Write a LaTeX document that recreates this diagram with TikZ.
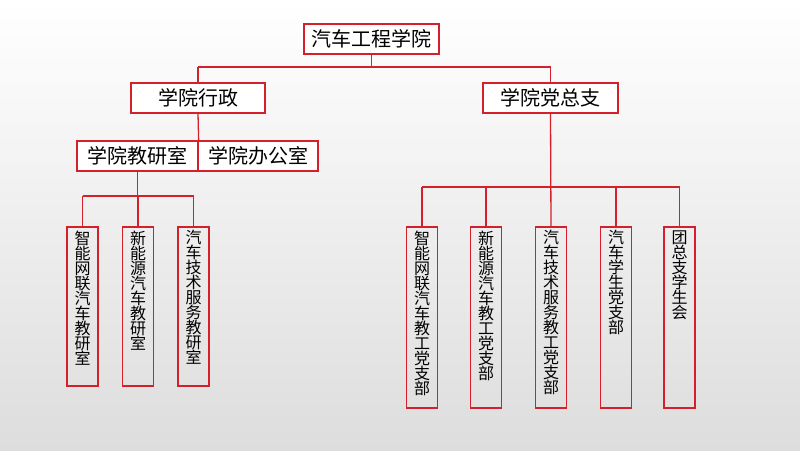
\documentclass[tikz,border=0pt]{standalone}
\usepackage{fontspec}
\setmainfont{Noto Sans CJK SC}
\definecolor{boxred}{RGB}{212,32,42}
\definecolor{bgbot}{RGB}{221,221,221}
\definecolor{bgmid}{RGB}{246,246,246}
\tikzset{
  x=1pt, y=-1pt,
  orgbox/.style={draw=boxred, line width=1.3pt, fill=white, minimum height=30pt, inner sep=0pt, font=\fontsize{20}{20}\selectfont},
  leafbox/.style={draw=boxred, line width=1.3pt, minimum width=31pt, inner sep=0pt},
  vtext/.style={anchor=north, inner sep=0pt, align=center, font=\fontsize{16}{15}\selectfont},
  conn/.style={draw=boxred, line width=1.3pt}
}
\begin{document}
\begin{tikzpicture}
\useasboundingbox (0,0) rectangle (800,450);
\shade[top color=white, middle color=bgmid, bottom color=bgbot] (0,0) rectangle (800,450);
% bus coordinates
\coordinate (busA) at (0,67);
\coordinate (busL) at (0,196);
\coordinate (busR) at (0,187);
% main boxes
\node[orgbox, minimum width=135pt] (top) at (371.5,39) {汽车工程学院};
\node[orgbox, minimum width=134pt] (admin) at (198,98) {学院行政};
\node[orgbox, minimum width=135pt] (party) at (550.5,98) {学院党总支};
\node[orgbox, minimum width=121pt] (jys) at (137.5,156) {学院教研室};
\node[orgbox, minimum width=120pt] (bgs) at (258,156) {学院办公室};
% left leaves
\node[leafbox, minimum height=159pt] (l1) at (82.5,306.5) {};
\node[leafbox, minimum height=159pt] (l2) at (138,306.5) {};
\node[leafbox, minimum height=159pt] (l3) at (193.5,306.5) {};
\node[vtext] (tl1) at ([yshift=-4pt]l1.north) {智\\能\\网\\联\\汽\\车\\教\\研\\室};
\node[vtext] (tl2) at ([yshift=-4pt]l2.north) {新\\能\\源\\汽\\车\\教\\研\\室};
\node[vtext] (tl3) at ([yshift=-4pt]l3.north) {汽\\车\\技\\术\\服\\务\\教\\研\\室};
% right leaves
\node[leafbox, minimum height=181pt] (r1) at (422,317.5) {};
\node[leafbox, minimum height=181pt] (r2) at (486,317.5) {};
\node[leafbox, minimum height=181pt] (r3) at (551,317.5) {};
\node[leafbox, minimum height=181pt] (r4) at (616,317.5) {};
\node[leafbox, minimum height=181pt] (r5) at (679.5,317.5) {};
\node[vtext] (tr1) at ([yshift=-4pt]r1.north) {智\\能\\网\\联\\汽\\车\\教\\工\\党\\支\\部};
\node[vtext] (tr2) at ([yshift=-4pt]r2.north) {新\\能\\源\\汽\\车\\教\\工\\党\\支\\部};
\node[vtext] (tr3) at ([yshift=-4pt]r3.north) {汽\\车\\技\\术\\服\\务\\教\\工\\党\\支\\部};
\node[vtext] (tr4) at ([yshift=-4pt]r4.north) {汽\\车\\学\\生\\党\\支\\部};
\node[vtext] (tr5) at ([yshift=-4pt]r5.north) {团\\总\\支\\学\\生\\会};
% connectors: top level
\draw[conn] (top.south) -- (top.south |- busA);
\draw[conn] (admin.north |- busA) -- (party.north |- busA);
\draw[conn] (admin.north |- busA) -- (admin.north);
\draw[conn] (party.north |- busA) -- (party.north);
% admin to offices
\draw[conn] (admin.south) -- (jys.north east);
% jys to left leaves
\draw[conn] (jys.south) -- (jys.south |- busL);
\draw[conn] (l1.north |- busL) -- (l3.north |- busL);
\draw[conn] (l1.north |- busL) -- (l1.north);
\draw[conn] (l2.north |- busL) -- (l2.north);
\draw[conn] (l3.north |- busL) -- (l3.north);
% party to right leaves
\draw[conn] (party.south) -- (r3.north);
\draw[conn] (r1.north |- busR) -- (r5.north |- busR);
\draw[conn] (r1.north |- busR) -- (r1.north);
\draw[conn] (r2.north |- busR) -- (r2.north);
\draw[conn] (r4.north |- busR) -- (r4.north);
\draw[conn] (r5.north |- busR) -- (r5.north);
\end{tikzpicture}
\end{document}
